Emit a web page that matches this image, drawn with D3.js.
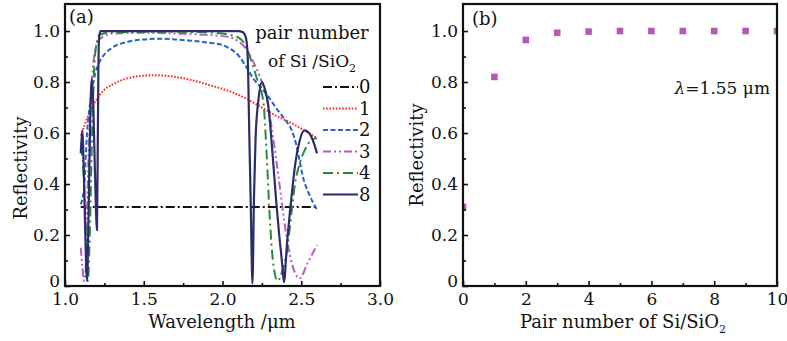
<!DOCTYPE html>
<html>
<head>
<meta charset="utf-8">
<script src="https://cdn.jsdelivr.net/npm/d3@7"></script>
<style>
  body { margin: 0; background: #fff; }
  svg text { font-family: "DejaVu Serif", serif; fill: #111; }
</style>
</head>
<body>
<div id="chart"></div>
<script>
// panel (a): reflectivity spectra, [wavelength (um), R]
const pair0 = [[1.1, 0.31], [2.6, 0.31]];
const pair1 = [[1.1, 0.59], [1.15, 0.67], [1.2, 0.73], [1.25, 0.77], [1.3, 0.79], [1.4, 0.815],
  [1.5, 0.825], [1.57, 0.827], [1.65, 0.824], [1.75, 0.815], [1.85, 0.8], [1.95, 0.782],
  [2.05, 0.763], [2.15, 0.735], [2.25, 0.7], [2.35, 0.665], [2.45, 0.635], [2.52, 0.61], [2.6, 0.58]];
const pair2 = [[1.1, 0.32], [1.12, 0.38], [1.14, 0.6], [1.16, 0.72], [1.18, 0.8], [1.2, 0.85],
  [1.22, 0.88], [1.26, 0.915], [1.3, 0.935], [1.4, 0.958], [1.5, 0.967], [1.6, 0.97],
  [1.7, 0.967], [1.8, 0.962], [1.9, 0.955], [2.0, 0.945], [2.05, 0.93], [2.1, 0.905],
  [2.15, 0.86], [2.2, 0.81], [2.25, 0.775], [2.3, 0.735], [2.35, 0.69], [2.4, 0.65],
  [2.44, 0.61], [2.47, 0.55], [2.49, 0.49], [2.51, 0.43], [2.55, 0.36], [2.6, 0.3]];
const pair3 = [[1.1, 0.15], [1.11, 0.08], [1.12, 0.02], [1.13, 0.05], [1.14, 0.3], [1.155, 0.6],
  [1.17, 0.8], [1.19, 0.92], [1.21, 0.96], [1.25, 0.98], [1.3, 0.99], [1.5, 0.993],
  [1.7, 0.99], [1.9, 0.985], [2.0, 0.98], [2.05, 0.975], [2.1, 0.96], [2.15, 0.93],
  [2.19, 0.886], [2.25, 0.8], [2.28, 0.74], [2.31, 0.63], [2.34, 0.5], [2.37, 0.36],
  [2.4, 0.22], [2.44, 0.09], [2.49, 0.03], [2.54, 0.09], [2.6, 0.16]];
const pair4 = [[1.1, 0.55], [1.12, 0.42], [1.135, 0.15], [1.145, 0.02], [1.155, 0.15],
  [1.17, 0.55], [1.185, 0.85], [1.2, 0.95], [1.22, 0.985], [1.3, 0.995], [1.6, 0.997],
  [1.9, 0.995], [2.0, 0.99], [2.05, 0.985], [2.1, 0.975], [2.14, 0.95], [2.19, 0.87],
  [2.22, 0.81], [2.26, 0.72], [2.28, 0.52], [2.3, 0.27], [2.32, 0.1], [2.35, 0.02],
  [2.38, 0.06], [2.41, 0.14], [2.44, 0.3], [2.46, 0.4], [2.49, 0.48], [2.52, 0.53],
  [2.56, 0.57], [2.6, 0.58]];
const pair8 = [[1.1, 0.52], [1.11, 0.61], [1.115, 0.55], [1.125, 0.3], [1.14, 0.02],
  [1.15, 0.3], [1.16, 0.65], [1.17, 0.81], [1.18, 0.7], [1.19, 0.45], [1.203, 0.22],
  [1.208, 0.55], [1.212, 0.85], [1.216, 0.97], [1.225, 1.0], [2.1, 1.0], [2.13, 0.995],
  [2.15, 0.97], [2.16, 0.9], [2.17, 0.6], [2.18, 0.3], [2.19, 0.01], [2.2, 0.35],
  [2.21, 0.58], [2.23, 0.74], [2.25, 0.8], [2.27, 0.77], [2.29, 0.71], [2.32, 0.5],
  [2.34, 0.34], [2.36, 0.2], [2.38, 0.08], [2.39, 0.015], [2.41, 0.17], [2.44, 0.36],
  [2.46, 0.47], [2.49, 0.57], [2.52, 0.61], [2.55, 0.6], [2.58, 0.56], [2.6, 0.52]];

const seriesNames = ["0", "1", "2", "3", "4", "8"];
const seriesData = [pair0, pair1, pair2, pair3, pair4, pair8];
const seriesColors = ["#111111", "#ff2a1a", "#2563c4", "#b35fc0", "#2a8a3c", "#2c2d6c"];
const seriesDash = ["9,3,2,3", "1.6,1.6", "5,2.5", "8,3,2,3,2,3", "10,4,2,4", null];

// panel (b): reflectivity at 1.55 um vs pair number
const pairNumbers = [0, 1, 2, 3, 4, 5, 6, 7, 8, 9, 10];
const reflAt155 = [0.31, 0.82, 0.965, 0.993, 0.998, 1.0, 1.0, 1.0, 1.0, 1.0, 1.0];

const xTicksA = [1.0, 1.5, 2.0, 2.5, 3.0];
const xTicksB = [0, 2, 4, 6, 8, 10];
const yTicks = [0, 0.2, 0.4, 0.6, 0.8, 1.0];

const W = 787, H = 341;
const plotTop = 4, plotBottom = 286;

const svg = d3.select("#chart").append("svg")
  .attr("width", W)
  .attr("height", H);
const defs = svg.append("defs");

function fmtY(d) { return d === 0 ? "0" : d3.format(".1f")(d); }

function drawAxes(g, x, y, xTicks, xMinor, xFmt, yMinor) {
  const xr = x.range();

  // minor ticks
  g.append("g")
    .attr("transform", `translate(0,${plotBottom})`)
    .call(d3.axisBottom(x).tickValues(xMinor).tickSizeInner(-3).tickSizeOuter(0).tickFormat(""))
    .call(s => s.select(".domain").remove());
  g.append("g")
    .attr("transform", `translate(${xr[0]},0)`)
    .call(d3.axisLeft(y).tickValues(yMinor).tickSizeInner(-3).tickSizeOuter(0).tickFormat(""))
    .call(s => s.select(".domain").remove());

  // major ticks + labels
  g.append("g")
    .attr("class", "axis axis-x")
    .attr("transform", `translate(0,${plotBottom})`)
    .call(d3.axisBottom(x).tickValues(xTicks).tickSizeInner(-5).tickSizeOuter(0).tickPadding(7).tickFormat(xFmt))
    .call(s => s.select(".domain").remove())
    .selectAll("text").style("font-size", "17px").attr("fill", "#111");
  g.append("g")
    .attr("class", "axis axis-y")
    .attr("transform", `translate(${xr[0]},0)`)
    .call(d3.axisLeft(y).tickValues(yTicks).tickSizeInner(-5).tickSizeOuter(0).tickPadding(5).tickFormat(fmtY))
    .call(s => s.select(".domain").remove())
    .selectAll("text")
    .style("font-size", "17px")
    .attr("fill", "#111")
    .attr("dy", d => d === 0 ? "0.05em" : "0.32em");

  g.selectAll(".tick line").attr("stroke", "#111").attr("stroke-width", 1.6);

  // frame
  g.append("rect")
    .attr("x", xr[0]).attr("y", plotTop)
    .attr("width", xr[1] - xr[0]).attr("height", plotBottom - plotTop)
    .attr("fill", "none")
    .attr("stroke", "#111")
    .attr("stroke-width", 2.2);
}

// ---------- panel (a) ----------
const xA = d3.scaleLinear().domain([1.0, 3.0]).range([65, 380]);
const yA = d3.scaleLinear().domain([0, 1.106]).range([plotBottom, plotTop]);
const gA = svg.append("g");

defs.append("clipPath").attr("id", "clipA")
  .append("rect").attr("x", 65).attr("y", plotTop).attr("width", 315).attr("height", plotBottom - plotTop);

const line = d3.line()
  .x(d => xA(d[0]))
  .y(d => yA(d[1]))
  .curve(d3.curveMonotoneX);

const curves = gA.append("g").attr("clip-path", "url(#clipA)");
seriesData.forEach((data, i) => {
  curves.append("path")
    .datum(data)
    .attr("d", line)
    .attr("fill", "none")
    .attr("stroke", seriesColors[i])
    .attr("stroke-width", i === 5 ? 2.2 : 2)
    .attr("stroke-dasharray", seriesDash[i]);
});

drawAxes(gA, xA, yA, xTicksA, d3.range(1.25, 3.0, 0.5), d3.format(".1f"), d3.range(0.1, 1.1, 0.2));

gA.append("text").attr("x", 69).attr("y", 23).style("font-size", "18px").text("(a)");

// legend
const legend = gA.append("g");
legend.append("text").attr("x", 312).attr("y", 39)
  .attr("text-anchor", "middle").style("font-size", "18px").text("pair number");
const sub = legend.append("text").attr("x", 312).attr("y", 67)
  .attr("text-anchor", "middle").style("font-size", "17px");
sub.append("tspan").text("of Si /SiO");
sub.append("tspan").attr("dy", 5).style("font-size", "11px").text("2");

seriesNames.forEach((name, i) => {
  const ly = 87 + i * 21.5;
  legend.append("line")
    .attr("x1", 323).attr("x2", 358)
    .attr("y1", ly).attr("y2", ly)
    .attr("stroke", seriesColors[i])
    .attr("stroke-width", i === 5 ? 2.2 : 2)
    .attr("stroke-dasharray", seriesDash[i]);
  legend.append("text")
    .attr("x", 359).attr("y", ly).attr("dy", "0.36em")
    .style("font-size", "18px")
    .text(name);
});

gA.append("text")
  .attr("x", 222).attr("y", 328)
  .attr("text-anchor", "middle")
  .style("font-size", "18px")
  .text("Wavelength /\u03bcm");

gA.append("text")
  .attr("transform", "rotate(-90)")
  .attr("x", -168).attr("y", 27)
  .attr("text-anchor", "middle")
  .style("font-size", "18px")
  .text("Reflectivity");

// ---------- panel (b) ----------
const xB = d3.scaleLinear().domain([0, 10]).range([463, 777]);
const yB = d3.scaleLinear().domain([0, 1.106]).range([plotBottom, plotTop]);
const gB = svg.append("g");

defs.append("clipPath").attr("id", "clipB")
  .append("rect").attr("x", 463).attr("y", plotTop).attr("width", 314).attr("height", plotBottom - plotTop);

gB.append("g").attr("clip-path", "url(#clipB)")
  .selectAll("rect")
  .data(pairNumbers)
  .enter()
  .append("rect")
  .attr("x", d => xB(d) - 3.3)
  .attr("y", (d, i) => yB(reflAt155[i]) - 3.3)
  .attr("width", 6.6)
  .attr("height", 6.6)
  .attr("fill", "#b559b5");

drawAxes(gB, xB, yB, xTicksB, d3.range(1, 10, 2), d3.format("d"), d3.range(0.1, 1.1, 0.2));

gB.append("text").attr("x", 472).attr("y", 25).style("font-size", "18px").text("(b)");

const lam = gB.append("text").attr("x", 770).attr("y", 94)
  .attr("text-anchor", "end").style("font-size", "17px");
lam.append("tspan").style("font-style", "italic").text("\u03bb");
lam.append("tspan").text("=1.55 \u03bcm");

const xl = gB.append("text")
  .attr("x", 623).attr("y", 328)
  .attr("text-anchor", "middle")
  .style("font-size", "18px");
xl.append("tspan").text("Pair number of Si/SiO");
xl.append("tspan").attr("dy", 5).style("font-size", "11px").text("2");

gB.append("text")
  .attr("transform", "rotate(-90)")
  .attr("x", -155).attr("y", 423)
  .attr("text-anchor", "middle")
  .style("font-size", "18px")
  .text("Reflectivity");
</script>
</body>
</html>
